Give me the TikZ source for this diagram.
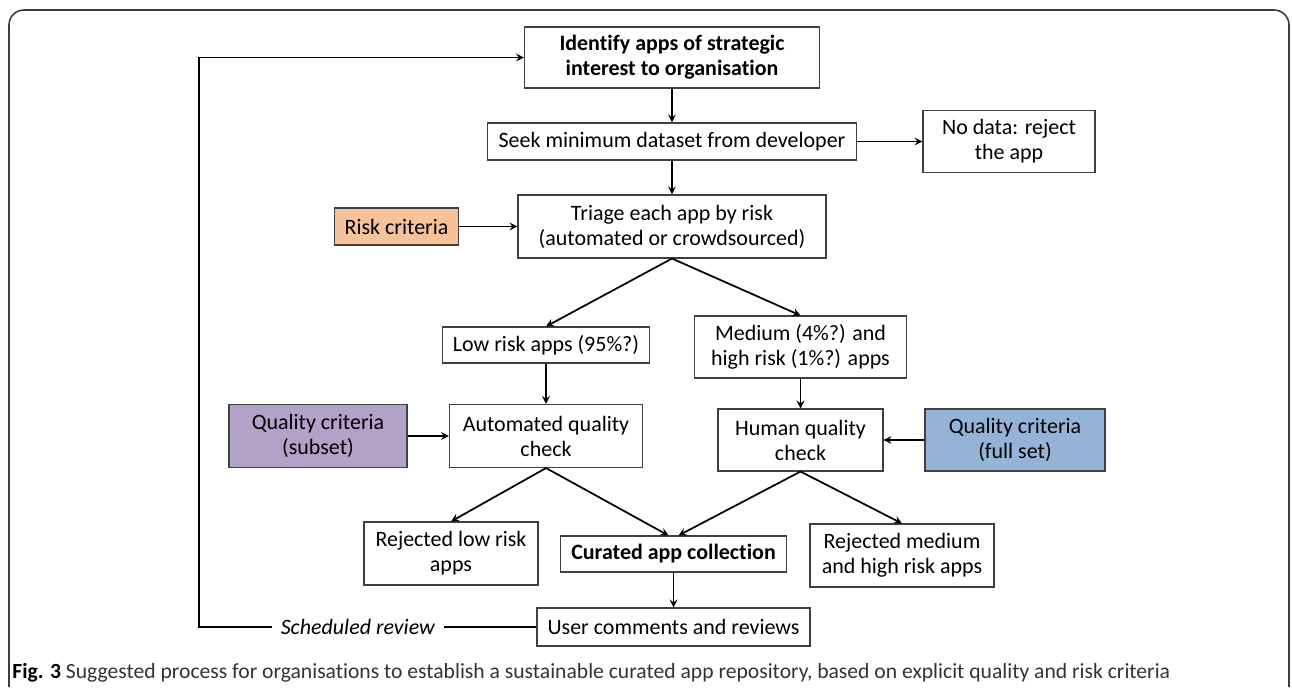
\documentclass[tikz,border=0pt]{standalone}
\usepackage{fontspec}
\setmainfont{Carlito}[Ligatures=NoCommon]
\usepackage{xcolor}
\definecolor{riskfill}{RGB}{246,194,154}
\definecolor{subsetfill}{RGB}{179,162,199}
\definecolor{fullfill}{RGB}{149,179,215}
\definecolor{framegray}{RGB}{60,60,60}
\usetikzlibrary{arrows,positioning,calc}

\begin{document}
\begin{tikzpicture}[
    every node/.style={font=\fontsize{12.5}{14.2}\selectfont},
    stage/.style={rectangle, draw=black!75, line width=0.6pt, inner sep=1pt, align=center, fill=white},
    criteria/.style={stage, fill=#1},
    arrow/.style={->, >=stealth, line width=1pt}
]
\useasboundingbox (0,0) rectangle (25.84,-13.74);

% outer frame, open at the bottom
\draw[framegray, line width=0.9pt, rounded corners=0.3cm] (0.18,-13.74) -- (0.18,-0.20) -- (25.78,-0.20) -- (25.78,-13.74);

% main column
\node[stage, minimum width=5.90cm, minimum height=1.22cm] (identify) at (13.44,-1.15) {\textbf{Identify apps of strategic}\\\textbf{interest to organisation}};
\node[stage, minimum width=7.38cm, minimum height=0.74cm] (seek) at (13.44,-2.83) {Seek minimum dataset from developer};
\node[stage, minimum width=3.44cm, minimum height=1.24cm] (nodata) at (20.18,-2.83) {No data: reject\\the app};
\node[criteria=riskfill, minimum width=2.48cm, minimum height=0.74cm] (riskcrit) at (7.93,-4.53) {Risk criteria};
\node[stage, minimum width=6.16cm, minimum height=1.26cm] (triage) at (13.44,-4.53) {Triage each app by risk\\(automated or crowdsourced)};

% risk branches
\node[stage, minimum width=4.14cm, minimum height=0.72cm] (lowrisk) at (10.92,-6.90) {Low risk apps (95\%?)};
\node[stage, minimum width=4.24cm, minimum height=1.24cm] (medrisk) at (16.01,-6.94) {Medium (4\%?) and\\high risk (1\%?) apps};
\node[criteria=subsetfill, minimum width=3.56cm, minimum height=1.26cm] (qsubset) at (6.36,-8.72) {Quality criteria\\(subset)};
\node[stage, minimum width=3.86cm, minimum height=1.26cm] (autocheck) at (10.92,-8.72) {Automated quality\\check};
\node[stage, minimum width=3.30cm, minimum height=1.24cm] (humancheck) at (16.01,-8.80) {Human quality\\check};
\node[criteria=fullfill, minimum width=3.60cm, minimum height=1.24cm] (qfull) at (20.30,-8.80) {Quality criteria\\(full set)};

% outcomes
\node[stage, minimum width=3.48cm, minimum height=1.26cm] (rejlow) at (9.02,-11.07) {Rejected low risk\\apps};
\node[stage, minimum width=4.52cm, minimum height=0.72cm] (curated) at (13.47,-11.08) {\textbf{Curated app collection}};
\node[stage, minimum width=3.68cm, minimum height=1.26cm] (rejmed) at (18.04,-11.11) {Rejected medium\\and high risk apps};
\node[stage, minimum width=5.46cm, minimum height=0.76cm] (usercom) at (13.47,-12.54) {User comments and reviews};
\node[inner sep=0.16cm] (review) at (7.16,-12.54) {\textit{Scheduled review}};
\coordinate (loopcorner) at (3.98,-12.54);

\node[anchor=west, inner sep=0pt, font=\fontsize{12.3}{14}\selectfont, text=black!80] (caption) at (0.24,-13.46) {\textcolor{black}{\textbf{Fig. 3}} Suggested process for organisations to establish a sustainable curated app repository, based on explicit quality and risk criteria};

\draw[arrow] (identify) -- (seek);
\draw[arrow] (seek) -- (nodata);
\draw[arrow] (seek) -- (triage);
\draw[arrow] (riskcrit) -- (triage);
\draw[arrow] (triage.south) -- (lowrisk.north);
\draw[arrow] (triage.south) -- (medrisk.north);
\draw[arrow] (lowrisk) -- (autocheck);
\draw[arrow] (medrisk) -- (humancheck);
\draw[arrow] (qsubset) -- (autocheck);
\draw[arrow] (qfull) -- (humancheck);
\draw[arrow] (autocheck.south) -- (rejlow.north);
\draw[arrow] (autocheck.south) -- ([xshift=-0.1cm]curated.north);
\draw[arrow] (humancheck.south) -- ([xshift=0.1cm]curated.north);
\draw[arrow] (humancheck.south) -- (rejmed.north);
\draw[arrow] (curated) -- (usercom);
\draw[line width=1pt] (usercom) -- (review);
\draw[arrow] (review) -- (loopcorner) |- (identify);

\end{tikzpicture}
\end{document}
